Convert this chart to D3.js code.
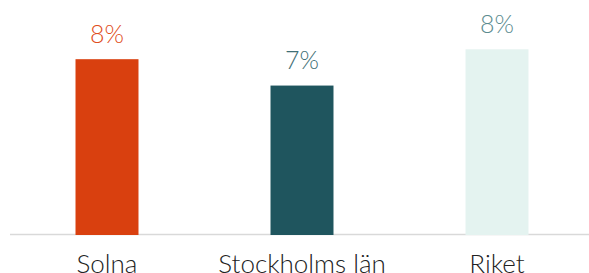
<!DOCTYPE html>
<html><head><meta charset="utf-8">
<script src="https://cdn.jsdelivr.net/npm/d3@7"></script>
<style>html,body{margin:0;padding:0;background:#fff;overflow:hidden}</style>
</head><body>
<svg id="c" width="589" height="273"></svg>
<script>
const categories = ["Solna", "Stockholms län", "Riket"];
const values = [8.0, 6.8, 8.45];
const labels = ["8%", "7%", "8%"];
const barColors = ["#D9400F", "#1F555E", "#E4F3F0"];
const labelColors = ["#DF4E22", "#3F6F76", "#5C8C90"];

const svg = d3.select("#c");
const x = d3.scaleBand().domain(categories).range([9.5, 594.5]).paddingInner(0.677).paddingOuter(0.3385);
const y = d3.scaleLinear().domain([0, 8.45]).range([235, 49.3]);
const font = "Lato, 'Open Sans', sans-serif";

svg.append("line").attr("x1", 10).attr("x2", 589).attr("y1", 234.5).attr("y2", 234.5)
  .attr("stroke", "#d9d9d9").attr("stroke-width", 1.5);

svg.selectAll("rect.bar").data(categories).join("rect").attr("class","bar")
  .attr("x", d => x(d)).attr("width", x.bandwidth())
  .attr("y", (d,i) => y(values[i])).attr("height", (d,i) => y(0) - y(values[i]))
  .attr("fill", (d,i) => barColors[i]);

svg.selectAll("text.val").data(categories).join("text").attr("class","val")
  .attr("x", d => x(d) + x.bandwidth()/2)
  .attr("y", (d,i) => y(values[i]) - 16.5)
  .attr("text-anchor", "middle").attr("font-family", font).attr("font-weight", 300)
  .attr("font-size", 25).attr("fill", (d,i) => labelColors[i])
  .text((d,i) => labels[i]);

svg.selectAll("text.cat").data(categories).join("text").attr("class","cat")
  .attr("x", d => x(d) + x.bandwidth()/2).attr("y", 272.5)
  .attr("text-anchor", "middle").attr("font-family", font).attr("font-weight", 300)
  .attr("font-size", 26).attr("fill", "#222")
  .text(d => d);
</script>
</body></html>
